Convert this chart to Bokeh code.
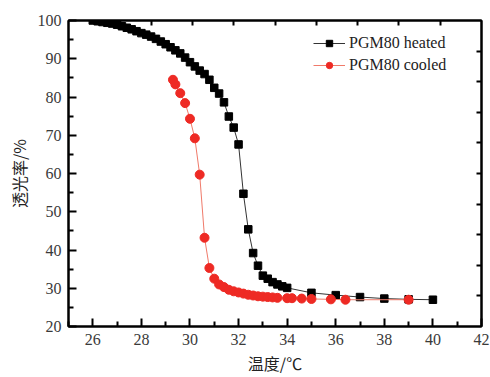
from bokeh.plotting import figure
from bokeh.models import (Range1d, LinearAxis, FixedTicker, Legend, LegendItem)
from bokeh.embed import file_html
from bokeh.resources import INLINE

# ---- data ----
heated_T = [26.0, 26.2, 26.4, 26.6, 26.8, 27.0, 27.2, 27.4, 27.6, 27.8, 28.0, 28.2, 28.4,
            28.6, 28.8, 29.0, 29.2, 29.4, 29.6, 29.8, 30.0, 30.2, 30.4, 30.6, 30.8, 31.0,
            31.2, 31.4, 31.6, 31.8, 32.0, 32.2, 32.4, 32.6, 32.8, 33.0, 33.2, 33.4, 33.6,
            33.8, 34.0, 35.0, 36.0, 37.0, 38.0, 39.0, 40.0]
heated_Tr = [100.0, 99.8, 99.6, 99.4, 99.2, 98.9, 98.5, 98.1, 97.7, 97.2, 96.7, 96.3, 95.8,
             95.2, 94.5, 93.8, 93.0, 92.2, 91.4, 90.3, 89.1, 88.0, 86.9, 86.0, 84.5, 82.4,
             80.9, 78.6, 74.9, 72.0, 67.6, 54.7, 45.4, 39.2, 35.9, 33.3, 32.5, 31.6, 31.0,
             30.5, 30.1, 28.8, 28.2, 27.7, 27.3, 27.1, 27.0]

cooled_T = [29.3, 29.4, 29.6, 29.8, 30.0, 30.2, 30.4, 30.6, 30.8, 31.0, 31.2, 31.4, 31.6,
            31.8, 32.0, 32.2, 32.4, 32.6, 32.8, 33.0, 33.2, 33.4, 33.6, 34.0, 34.2, 34.6,
            35.0, 35.8, 36.4, 39.0]
cooled_Tr = [84.5, 83.3, 81.0, 78.4, 74.3, 69.2, 59.7, 43.2, 35.3, 32.5, 31.0, 30.3, 29.6,
             29.2, 28.9, 28.6, 28.3, 28.1, 27.9, 27.8, 27.7, 27.6, 27.5, 27.4, 27.4, 27.3,
             27.2, 27.1, 27.0, 27.0]

x_ticks = [26, 28, 30, 32, 34, 36, 38, 40, 42]
x_minor = [25, 27, 29, 31, 33, 35, 37, 39, 41]
y_ticks = [20, 30, 40, 50, 60, 70, 80, 90, 100]
y_minor = [25, 35, 45, 55, 65, 75, 85, 95]
mirror_ticks = [1, 2, 3, 4, 5, 6, 7, 8, 9]
series_names = ["PGM80 heated", "PGM80 cooled"]

TICK_FONT = "Liberation Serif"
CJK_FONT = "Noto Sans CJK SC"

p = figure(width=490, height=377, output_backend="svg", toolbar_location=None,
           x_range=Range1d(25, 42), y_range=Range1d(20, 100),
           min_border_left=68, min_border_right=9, min_border_top=20, min_border_bottom=51)
p.xaxis.visible = False
p.yaxis.visible = False
p.grid.visible = False
p.outline_line_color = "black"
p.outline_line_width = 2
p.background_fill_color = "white"
p.border_fill_color = "white"

p.extra_x_ranges = {"top": Range1d(0, 10)}
p.extra_y_ranges = {"right": Range1d(0, 10)}


def style(ax, labels=True):
    ax.axis_line_color = "black"
    ax.axis_line_width = 2
    ax.major_tick_line_color = "black"
    ax.minor_tick_line_color = "black"
    ax.major_tick_line_width = 2
    ax.minor_tick_line_width = 2
    ax.major_tick_out = 0
    ax.minor_tick_out = 0
    if labels:
        ax.major_tick_in = 8
        ax.minor_tick_in = 5
        ax.major_label_text_font = TICK_FONT
        ax.major_label_text_font_size = "16px"
        ax.major_label_text_color = "#3a3a3a"
        ax.axis_label_text_font = CJK_FONT
        ax.axis_label_text_font_size = "16px"
        ax.axis_label_text_font_style = "normal"
        ax.axis_label_text_color = "#222222"
    else:
        ax.major_tick_in = 5
        ax.minor_tick_in = 0
        ax.major_label_overrides = {t: "" for t in mirror_ticks}
        ax.major_label_standoff = 0


xb = LinearAxis(ticker=FixedTicker(ticks=x_ticks, minor_ticks=x_minor), axis_label="温度/℃")
style(xb)
xb.major_label_standoff = 7
xb.axis_label_standoff = 3
p.add_layout(xb, "below")

yl = LinearAxis(ticker=FixedTicker(ticks=y_ticks, minor_ticks=y_minor), axis_label="透光率/%")
style(yl)
yl.major_label_standoff = 7
yl.axis_label_standoff = 4
p.add_layout(yl, "left")

xt = LinearAxis(x_range_name="top", ticker=FixedTicker(ticks=mirror_ticks, minor_ticks=[]))
style(xt, labels=False)
p.add_layout(xt, "above")

yr = LinearAxis(y_range_name="right", ticker=FixedTicker(ticks=mirror_ticks, minor_ticks=[]))
style(yr, labels=False)
p.add_layout(yr, "right")

# ---- series ----
hl = p.line(heated_T, heated_Tr, line_color="#333333", line_width=1)
hs = p.scatter(heated_T, heated_Tr, marker="square", size=7.5, fill_color="black", line_color="black")
cl = p.line(cooled_T, cooled_Tr, line_color="#f07a6a", line_width=1)
cs = p.scatter(cooled_T, cooled_Tr, marker="circle", size=9, fill_color="#ee2a24", line_color="#ee2a24")

legend = Legend(items=[LegendItem(label=series_names[0], renderers=[hl, hs]),
                       LegendItem(label=series_names[1], renderers=[cl, cs])],
                location=(245, 252))
legend.border_line_color = None
legend.background_fill_alpha = 0
legend.padding = 0
legend.margin = 0
legend.spacing = 4
legend.glyph_width = 32
legend.glyph_height = 16
legend.label_height = 16
legend.label_standoff = 4
legend.label_text_font = TICK_FONT
legend.label_text_font_size = "16px"
legend.label_text_color = "#222222"
p.add_layout(legend)

open("out.html", "w").write(file_html(p, INLINE))
